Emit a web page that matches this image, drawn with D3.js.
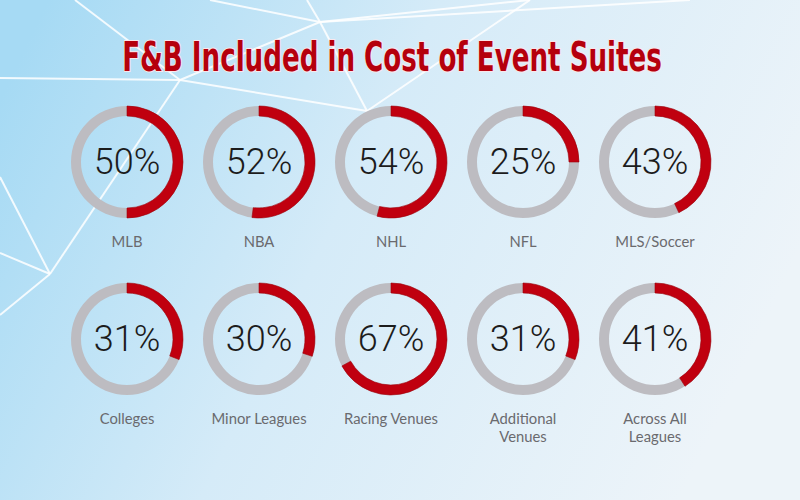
<!DOCTYPE html>
<html>
<head>
  <meta charset="utf-8">
  <title>F&amp;B Included in Cost of Event Suites</title>
  <style>
    body { margin: 0; background: #eef5fa; }
    svg { display: block; }
  </style>
</head>
<body>
  <script src="https://cdn.jsdelivr.net/npm/d3@7"></script>
  <script>
    // chart data
    var labels = ["MLB", "NBA", "NHL", "NFL", "MLS/Soccer",
                  "Colleges", "Minor Leagues", "Racing Venues", "Additional Venues", "Across All Leagues"]
    var labelLines = [["MLB"], ["NBA"], ["NHL"], ["NFL"], ["MLS/Soccer"],
                      ["Colleges"], ["Minor Leagues"], ["Racing Venues"], ["Additional", "Venues"], ["Across All", "Leagues"]]
    var values = [50, 52, 54, 25, 43, 31, 30, 67, 31, 41]
    var title = "F&B Included in Cost of Event Suites"

    // background mesh (decoration)
    var nodes = {a: [180, 80], b: [50, 274], c: [367, 111], d: [320, 22],
                 e1: [75, 0], e2: [0, 78], e3: [0, 177], e4: [0, 253], e5: [0, 315],
                 e6: [210, 0], e7: [307, 0], e8: [530, 0], e9: [690, 0]}
    var edges = [["a", "e1"], ["a", "e2"], ["a", "b"], ["a", "c"], ["a", "d"],
                 ["b", "e3"], ["b", "e4"], ["b", "e5"],
                 ["d", "e6"], ["d", "e7"], ["d", "e8"], ["d", "c"], ["c", "e8"], ["d", "e9"]]

    var width = 800, height = 500
    var cols = 5

    var svg = d3.select("body").append("svg")
      .attr("width", width)
      .attr("height", height)

    // background gradient
    var defs = svg.append("defs")
    var grad = defs.append("linearGradient")
      .attr("id", "bg")
      .attr("x1", "0%").attr("y1", "20%")
      .attr("x2", "100%").attr("y2", "50%")
    grad.append("stop").attr("offset", "0%").attr("stop-color", "#a6daf4")
    grad.append("stop").attr("offset", "45%").attr("stop-color", "#d5ebf8")
    grad.append("stop").attr("offset", "100%").attr("stop-color", "#edf4f9")

    svg.append("rect")
      .attr("width", width)
      .attr("height", height)
      .attr("fill", "url(#bg)")

    svg.append("g")
      .selectAll("line")
      .data(edges)
      .enter()
      .append("line")
      .attr("x1", function (d) { return nodes[d[0]][0] })
      .attr("y1", function (d) { return nodes[d[0]][1] })
      .attr("x2", function (d) { return nodes[d[1]][0] })
      .attr("y2", function (d) { return nodes[d[1]][1] })
      .attr("stroke", "#ffffff")
      .attr("stroke-opacity", 0.85)
      .attr("stroke-width", 2)

    // title, squeezed horizontally to look like a heavy condensed face
    var titleText = svg.append("text")
      .attr("text-anchor", "middle")
      .attr("font-family", "'DejaVu Sans Condensed', 'DejaVu Sans', sans-serif")
      .attr("font-weight", "bold")
      .attr("font-size", 41)
      .attr("fill", "#b5000d")
      .attr("stroke", "#fbe6ea")
      .attr("stroke-width", 2)
      .attr("paint-order", "stroke")
      .text(title)
    var natural = titleText.node().getComputedTextLength()
    titleText.attr("transform", "translate(392,71) scale(" + (540 / natural) + ",1)")

    // scales
    var x = d3.scalePoint().domain(d3.range(cols)).range([127, 655])
    var y = d3.scalePoint().domain([0, 1]).range([162, 339])
    var pct = d3.scaleLinear().domain([0, 100]).range([0, 2 * Math.PI])

    var arc = d3.arc().innerRadius(46).outerRadius(56)

    var items = values.map(function (v, i) {
      return {value: v, label: labels[i], lines: labelLines[i], col: i % cols, row: Math.floor(i / cols)}
    })

    var g = svg.selectAll(".donut")
      .data(items)
      .enter()
      .append("g")
      .attr("class", "donut")
      .attr("transform", function (d) { return "translate(" + x(d.col) + "," + y(d.row) + ")" })

    g.append("path")
      .attr("d", arc({startAngle: 0, endAngle: 2 * Math.PI}))
      .attr("fill", "#bdbcc1")

    g.append("path")
      .attr("d", function (d) { return arc({startAngle: 0, endAngle: pct(d.value)}) })
      .attr("fill", "#c0000f")
      .attr("stroke", "#9e000a")
      .attr("stroke-width", 0.6)

    g.append("text")
      .attr("text-anchor", "middle")
      .attr("y", 12)
      .attr("font-family", "Roboto, sans-serif")
      .attr("font-weight", 300)
      .attr("font-size", 36)
      .attr("fill", "#1c1c1c")
      .text(function (d) { return d.value + "%" })

    g.append("text")
      .attr("text-anchor", "middle")
      .attr("font-family", "Lato, sans-serif")
      .attr("font-size", 14.8)
      .attr("fill", "#6a6a6e")
      .attr("y", 85)
      .selectAll("tspan")
      .data(function (d) { return d.lines })
      .enter()
      .append("tspan")
      .attr("x", 0)
      .attr("dy", function (d, i) { return i === 0 ? 0 : 18 })
      .text(function (d) { return d })
  </script>
</body>
</html>
